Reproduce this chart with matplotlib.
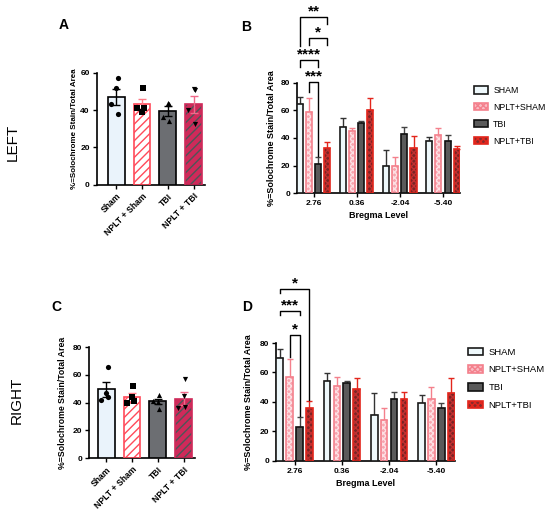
import numpy as np
import matplotlib.pyplot as plt
from matplotlib.patches import Patch

plt.rcParams['font.family'] = ['Liberation Sans', 'DejaVu Sans']
plt.rcParams['hatch.linewidth'] = 1.0

# ---- data: panels A / C (group means, SEM, individual animals)
groups_ac = ['Sham', 'NPLT + Sham', 'TBI', 'NPLT + TBI']

left_mean = [47, 43, 39.5, 43]
left_sem = [4.5, 3, 2.5, 4.5]
left_pts = [[57, 52, 43.5, 38], [52, 39, 41, 41], [43.5, 44, 36.5, 34], [50.5, 51.5, 40, 32.5]]

right_mean = [49.5, 44, 41, 43]
right_sem = [5.5, 3, 2, 5]
right_pts = [[66, 47, 42, 44], [52, 44, 40, 41], [45.5, 40.5, 41.5, 35.5], [57, 45, 36.5, 37]]

# ---- data: panels B / D (by bregma level)
bregma = ['2.76', '0.36', '-2.04', '-5.40']
series = ['SHAM', 'NPLT+SHAM', 'TBI', 'NPLT+TBI']

left_lvl = {
    'SHAM': [65, 48, 20, 38],
    'NPLT+SHAM': [59, 45, 20, 42],
    'TBI': [21, 51, 43, 38],
    'NPLT+TBI': [33, 60, 33, 32],
}
left_lvl_err = {
    'SHAM': [5, 6.5, 11.5, 2.5],
    'NPLT+SHAM': [10, 2.5, 6, 5],
    'TBI': [5, 1, 5, 4.5],
    'NPLT+TBI': [4, 9, 8.5, 2],
}
right_lvl = {
    'SHAM': [70, 54, 31, 39],
    'NPLT+SHAM': [57, 51, 28, 42],
    'TBI': [23, 53, 42, 36],
    'NPLT+TBI': [36, 49, 42, 46],
}
right_lvl_err = {
    'SHAM': [6, 5.5, 15, 6],
    'NPLT+SHAM': [12, 6, 8, 8],
    'TBI': [6.5, 1.5, 4.5, 3],
    'NPLT+TBI': [4.5, 7, 4.5, 10.5],
}

# significance brackets at 2.76: (bar a, bar b, height, left leg end, right leg end, label)
left_sig = [(0, 3, 128, 107, 123, '**'), (1, 3, 112.5, 107.5, 107.5, '*'),
            (0, 2, 96.5, 91.5, 91.5, '****'), (1, 2, 80.5, 73.5, 27, '***')]
right_sig = [(0, 3, 117, 114, 41, '*'), (0, 2, 102, 99, 99, '***'),
             (1, 2, 85.5, 70.5, 30.5, '*')]

ylab = '%=Solochrome Stain/Total Area'

# styles: (fill, hatch, hatch colour, edge colour, errbar colour)
style_ac = [('#eaf3fb', None, None, 'black', 'black'),
            ('white', '////', '#ff4a5a', '#ff4a5a', '#ff7a86'),
            ('#6c6e72', None, None, 'black', 'black'),
            ('#cf2a5a', '////', '#4f5558', '#cf2a5a', '#f06a8a')]
style_bd = [('#eef8fb', None, None, '#1a1a1a', '#333333'),
            ('#f7a4ae', 'xxxxxx', '#fde0e4', '#f4808c', '#f4808c'),
            ('#5a5a5a', None, None, '#111111', '#444444'),
            ('#7a2424', 'xxxxxx', '#c03030', '#e3261c', '#e3261c')]
markers = ['o', 's', '^', 'v']
jitter = [0.18, 0.0, -0.2, 0.2]


def hatched_bar(ax, x, h, w, st, yerr=None):
    fill, hatch, hcol, ecol, errc = st
    if hatch:
        ax.bar(x, h, w, color=fill, edgecolor=hcol, hatch=hatch, linewidth=0, zorder=2)
        ax.bar(x, h, w, color='none', edgecolor=ecol, linewidth=1.2, zorder=3)
    else:
        ax.bar(x, h, w, color=fill, edgecolor=ecol, linewidth=1.2, zorder=3)
    if yerr is not None:
        ax.errorbar(x, h, yerr=[np.zeros(len(np.atleast_1d(h))), yerr], fmt='none',
                    ecolor=errc, elinewidth=1.0, capsize=2, capthick=1.0, zorder=1)


def style_axes(ax, ymax, step, xsize, ysize, pad):
    for s in ['top', 'right']:
        ax.spines[s].set_visible(False)
    for s in ['left', 'bottom']:
        ax.spines[s].set_linewidth(1.2)
    ax.set_ylim(0, ymax)
    ax.set_yticks(np.arange(0, ymax + 1, step))
    ax.tick_params(width=1.0, length=3, labelsize=6, pad=2)
    ax.tick_params(axis='x', labelsize=xsize)
    for t in ax.get_yticklabels() + ax.get_xticklabels():
        t.set_fontweight('bold')
    ax.set_ylabel(ylab, fontsize=ysize, fontweight='bold', labelpad=pad)


def group_panel(ax, means, sems, pts, ymax, xlim, ysize, pad):
    x = np.arange(len(groups_ac))
    for i in range(len(groups_ac)):
        hatched_bar(ax, x[i], means[i], 0.65, style_ac[i])
        ax.errorbar(x[i], means[i], yerr=sems[i], fmt='none', ecolor=style_ac[i][4],
                    elinewidth=1.0, capsize=3, capthick=1.0, zorder=4)
        ax.scatter(x[i] + np.array(jitter) * np.array([0.3, 1, 1, 0.3]), pts[i],
                   marker=markers[i], s=14, color='black', zorder=5, linewidths=0)
    ax.set_xticks(x)
    ax.set_xticklabels(groups_ac, rotation=45, ha='right', rotation_mode='anchor')
    ax.set_xlim(*xlim)
    style_axes(ax, ymax, 20, 6.2, ysize, pad)


def level_panel(ax, data, err, sig, leg_x, leg_y, leg_size, pad):
    x = np.arange(len(bregma))
    step, w = 0.21, 0.14
    for i, s in enumerate(series):
        hatched_bar(ax, x + (i - 1.5) * step, data[s], w, style_bd[i], yerr=err[s])
    ax.set_xticks(x)
    ax.set_xticklabels(bregma)
    ax.set_xlim(-0.39, 3.39)
    style_axes(ax, 80, 20, 6, 6.5, pad)
    ax.set_xlabel('Bregma Level', fontsize=6.5, fontweight='bold', labelpad=3)
    for a, b, yl, la, lb, lab in sig:
        xa, xb = (a - 1.5) * step, (b - 1.5) * step
        ax.plot([xa, xa, xb, xb], [la, yl, yl, lb], color='black', lw=1.0,
                clip_on=False, zorder=6)
        ax.text((xa + xb) / 2, yl + 1, lab, ha='center', va='baseline',
                fontsize=11, fontweight='bold', clip_on=False)
    handles = [Patch(facecolor=st[0], edgecolor=st[3], hatch=st[1], linewidth=1.2)
               for st in [style_bd[0], ('#f9bcc4', 'xxxxxx', None, '#f4808c'),
                          style_bd[2], ('#8a2a2a', 'xxxxxx', None, '#e3261c')]]
    ax.legend(handles, series, loc='upper left', bbox_to_anchor=(leg_x, leg_y),
              frameon=False, fontsize=leg_size, handlelength=1.6, handleheight=0.9,
              labelspacing=0.9, handletextpad=0.6, borderaxespad=0.2)


fig = plt.figure(figsize=(5.5, 5.12), dpi=100)

axA = fig.add_axes([0.176, 0.639, 0.197, 0.219])
group_panel(axA, left_mean, left_sem, left_pts, 60, (-0.76, 3.45), 5.8, 2)
axB = fig.add_axes([0.540, 0.623, 0.296, 0.215])
level_panel(axB, left_lvl, left_lvl_err, left_sig, 1.055, 1.02, 6.3, 3)
axC = fig.add_axes([0.162, 0.105, 0.193, 0.217])
group_panel(axC, right_mean, right_sem, right_pts, 80, (-0.66, 3.45), 6.3, 4)
axD = fig.add_axes([0.502, 0.100, 0.325, 0.230])
level_panel(axD, right_lvl, right_lvl_err, right_sig, 1.04, 1.01, 6.8, 5)

fig.text(0.116, 0.951, 'A', fontsize=10, fontweight='bold', ha='center', va='center')
fig.text(0.448, 0.947, 'B', fontsize=10, fontweight='bold', ha='center', va='center')
fig.text(0.103, 0.400, 'C', fontsize=10, fontweight='bold', ha='center', va='center')
fig.text(0.449, 0.400, 'D', fontsize=10, fontweight='bold', ha='center', va='center')
fig.text(0.023, 0.722, 'LEFT', fontsize=11, rotation=90, ha='center', va='center')
fig.text(0.030, 0.219, 'RIGHT', fontsize=11, rotation=90, ha='center', va='center')

fig.savefig('out.png', dpi=100)
